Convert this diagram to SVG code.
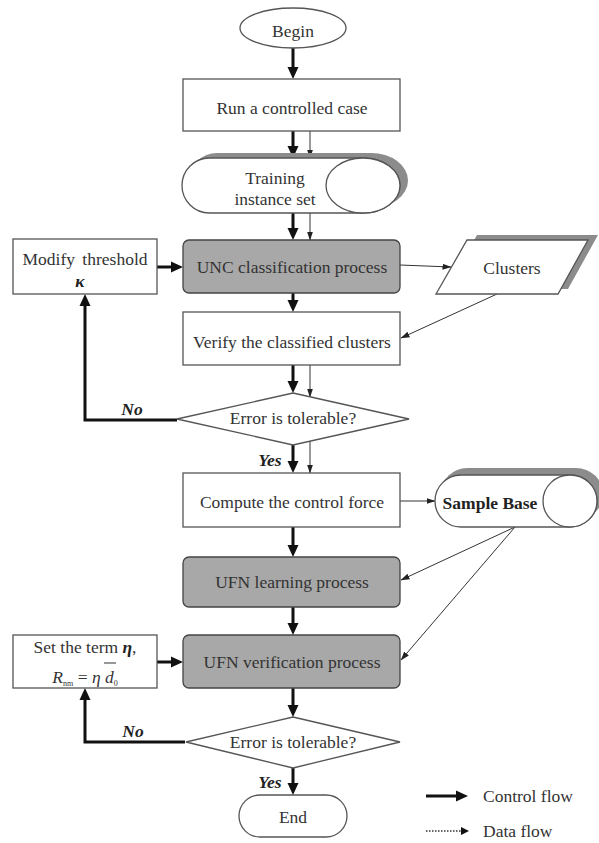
<svg xmlns="http://www.w3.org/2000/svg" width="599" height="843" viewBox="0 0 599 843">
<defs>
<marker id="ah" markerUnits="userSpaceOnUse" markerWidth="12" markerHeight="12" viewBox="0 0 12 12" refX="6" refY="6" orient="auto"><path d="M0,0.5 L12,6 L0,11.5 Z" fill="#111"/></marker>
<marker id="at" markerUnits="userSpaceOnUse" markerWidth="9" markerHeight="8" viewBox="0 0 9 8" refX="8.5" refY="4" orient="auto"><path d="M0,1 L9,4 L0,7 Z" fill="#222"/></marker>
</defs>
<style>
text{font-family:"Liberation Serif","Times New Roman",serif;font-size:17.5px;fill:#333;text-anchor:middle}
.box{fill:#fff;stroke:#555;stroke-width:1.3}
.gbox{fill:#a8a8a8;stroke:#444;stroke-width:1.3}
.shadow{fill:#8c8c8c;stroke:none}
.ctl{fill:none;stroke:#111;stroke-width:3}
.dat{fill:none;stroke:#333;stroke-width:1}
.lbl{font-weight:bold;font-style:italic;fill:#222}
</style>
<rect width="599" height="843" fill="#fff"/>

<g id="connectors">
<line class="ctl" x1="293" y1="48" x2="293" y2="73" marker-end="url(#ah)"/>
<line class="ctl" x1="293" y1="131" x2="293" y2="152" marker-end="url(#ah)"/>
<line class="dat" x1="310" y1="131" x2="310" y2="158" marker-end="url(#at)"/>
<line class="ctl" x1="293" y1="213" x2="293" y2="234" marker-end="url(#ah)"/>
<line class="dat" x1="310" y1="213" x2="310" y2="240" marker-end="url(#at)"/>
<line class="ctl" x1="293" y1="293" x2="293" y2="306" marker-end="url(#ah)"/>
<line class="ctl" x1="293" y1="365" x2="293" y2="387" marker-end="url(#ah)"/>
<line class="dat" x1="310" y1="365" x2="310" y2="397" marker-end="url(#at)"/>
<line class="ctl" x1="293" y1="445" x2="293" y2="467" marker-end="url(#ah)"/>
<line class="dat" x1="310" y1="441" x2="310" y2="473" marker-end="url(#at)"/>
<line class="ctl" x1="293" y1="527" x2="293" y2="551" marker-end="url(#ah)"/>
<line class="ctl" x1="293" y1="607" x2="293" y2="629" marker-end="url(#ah)"/>
<line class="ctl" x1="293" y1="688" x2="293" y2="711" marker-end="url(#ah)"/>
<line class="ctl" x1="293" y1="768" x2="293" y2="789" marker-end="url(#ah)"/>
<line class="ctl" x1="157" y1="267" x2="177" y2="267" marker-end="url(#ah)"/>
<line class="ctl" x1="157" y1="662" x2="177" y2="662" marker-end="url(#ah)"/>
<polyline class="ctl" points="177,420 85,420 85,300" marker-end="url(#ah)"/>
<polyline class="ctl" points="185,742 85,742 85,694" marker-end="url(#ah)"/>
<line class="dat" x1="400" y1="265" x2="451" y2="267" marker-end="url(#at)"/>
<line class="dat" x1="497" y1="294" x2="401" y2="338" marker-end="url(#at)"/>
<line class="dat" x1="400" y1="501" x2="435" y2="501" marker-end="url(#at)"/>
<line class="dat" x1="515" y1="527" x2="401" y2="580" marker-end="url(#at)"/>
<line class="dat" x1="515" y1="527" x2="401" y2="660" marker-end="url(#at)"/>
</g>

<g id="begin">
<ellipse class="box" cx="293" cy="28" rx="53" ry="20"/>
<text x="293" y="37">Begin</text>
</g>

<g id="run">
<rect class="box" x="183" y="79" width="217" height="52"/>
<text x="292" y="114">Run a controlled case</text>
</g>

<g id="training">
<path class="shadow" d="M217,153 H371 A37 27.5 0 0 1 371 208 H217 A27.5 27.5 0 0 1 217 153 Z"/>
<path class="box" d="M209.5,158 H363 A37 27.5 0 0 1 363 213 H209.5 A27.5 27.5 0 0 1 209.5 158 Z"/>
<ellipse class="box" cx="363" cy="185.5" rx="37" ry="27.5"/>
<text x="275" y="184">Training</text>
<text x="275" y="205">instance set</text>
</g>

<g id="unc">
<rect class="gbox" x="183" y="240" width="217" height="53" rx="6"/>
<text x="292" y="273">UNC classification process</text>
</g>

<g id="modify">
<rect class="box" x="13" y="239" width="144" height="55"/>
<text x="85" y="265" style="word-spacing:3px">Modify threshold</text>
<text x="80" y="287" class="lbl">κ</text>
</g>

<g id="clusters">
<polygon class="shadow" points="477,235 598,235 568,289 447,289"/>
<polygon class="box" points="467,240 588,240 558,294 436,294"/>
<text x="512" y="274">Clusters</text>
</g>

<g id="verify">
<rect class="box" x="183" y="312" width="217" height="53"/>
<text x="292" y="348">Verify the classified clusters</text>
</g>

<g id="decision1">
<polygon class="box" points="293,393 409,419 293,445 177,419"/>
<text x="293" y="424">Error is tolerable?</text>
<text x="132" y="415" class="lbl">No</text>
<text x="270" y="466" class="lbl">Yes</text>
</g>

<g id="compute">
<rect class="box" x="183" y="473" width="217" height="54"/>
<text x="292" y="508">Compute the control force</text>
</g>

<g id="samplebase">
<path class="shadow" d="M467,468 H576 A27 26 0 0 1 576 520 H467 A26 26 0 0 1 467 468 Z"/>
<path class="box" d="M461,475 H570 A27 26 0 0 1 570 527 H461 A26 26 0 0 1 461 475 Z"/>
<ellipse class="box" cx="570" cy="501" rx="27" ry="26"/>
<text x="490" y="509" style="font-weight:bold;fill:#222">Sample Base</text>
</g>

<g id="learning">
<rect class="gbox" x="183" y="557" width="217" height="50" rx="6"/>
<text x="292" y="588">UFN learning process</text>
</g>

<g id="verification">
<rect class="gbox" x="183" y="635" width="217" height="53" rx="6"/>
<text x="292" y="668">UFN verification process</text>
</g>

<g id="setterm">
<rect class="box" x="13" y="635" width="144" height="53"/>
<text x="85" y="653">Set the term <tspan class="lbl">η</tspan>,</text>
<text x="85" y="683"><tspan font-style="italic">R</tspan><tspan font-size="8" dy="3">nm</tspan><tspan dy="-3"> = </tspan><tspan font-style="italic">η </tspan><tspan font-style="italic">d</tspan><tspan font-size="8" dy="3">0</tspan></text>
<line x1="104" y1="663" x2="116" y2="663" stroke="#333" stroke-width="1"/>
</g>

<g id="decision2">
<polygon class="box" points="293,717 400,742 293,768 186,742"/>
<text x="293" y="748">Error is tolerable?</text>
<text x="133" y="737" class="lbl">No</text>
<text x="270" y="788" class="lbl">Yes</text>
</g>

<g id="end">
<rect class="box" x="239" y="795" width="108" height="42" rx="21"/>
<text x="293" y="823">End</text>
</g>

<g id="legend">
<line class="ctl" x1="426" y1="796" x2="462" y2="796" marker-end="url(#ah)"/>
<text x="483" y="802" style="text-anchor:start">Control flow</text>
<line x1="426" y1="831" x2="461" y2="831" stroke="#333" stroke-width="1.5" stroke-dasharray="1.5,1.5"/>
<path d="M461,827 L469,831 L461,835 Z" fill="#111"/>
<text x="483" y="837" style="text-anchor:start">Data flow</text>
</g>
</svg>
